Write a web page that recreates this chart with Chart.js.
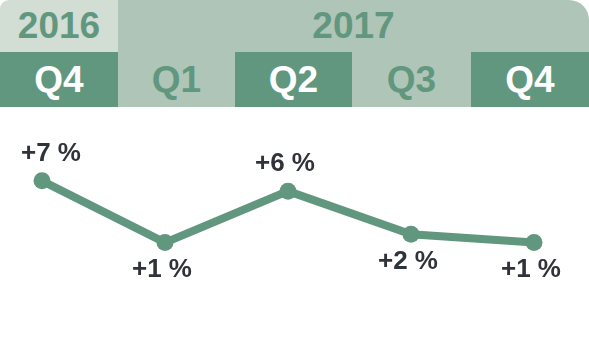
<!DOCTYPE html>
<html>
<head>
<meta charset="utf-8">
<script src="https://cdn.jsdelivr.net/npm/chart.js@4/dist/chart.umd.min.js"></script>
<style>
  html, body { margin: 0; padding: 0; background: #fff; }
  body { width: 589px; height: 354px; overflow: hidden; font-family: "Liberation Sans", Arial, sans-serif; }
  .row { display: flex; }
  .cell { display: flex; align-items: center; justify-content: center; font-weight: bold; }
  #years .cell { height: 52px; font-size: 37px; color: #62977f; }
  #quarters .cell { height: 55px; font-size: 37px; }
  #chartBox { position: relative; width: 589px; height: 247px; }
</style>
</head>
<body>
<div id="years" class="row"></div>
<div id="quarters" class="row"></div>
<div id="chartBox"><canvas id="growthChart"></canvas></div>
<script>
const years = ["2016", "2017"];
const yearSpans = [1, 4];
const quarters = ["Q4", "Q1", "Q2", "Q3", "Q4"];
const growth = [7, 1, 6, 1.8, 1];
const growthLabels = ["+7 %", "+1 %", "+6 %", "+2 %", "+1 %"];
const labelSide = ["top", "bottom", "top", "bottom", "bottom"];

const green = "#62977f";
const paleGreen = "#afc5b7";

// header rows
const cellWidths = [118, 117, 117, 119, 118];
let col = 0;
years.forEach((y, i) => {
    let w = 0;
    for (let k = 0; k < yearSpans[i]; k++) w += cellWidths[col + k];
    col += yearSpans[i];
    const d = document.createElement("div");
    d.className = "cell";
    d.style.width = w + "px";
    d.style.background = i === 0 ? "#d2ddd3" : paleGreen;
    d.style.borderRadius = i === 0 ? "9px 0 0 0" : "0 20px 0 0";
    d.textContent = y;
    document.getElementById("years").appendChild(d);
});
quarters.forEach((q, i) => {
    const d = document.createElement("div");
    d.className = "cell";
    d.style.width = cellWidths[i] + "px";
    d.style.background = i % 2 === 0 ? green : paleGreen;
    d.style.color = i % 2 === 0 ? "#ffffff" : green;
    d.textContent = q;
    document.getElementById("quarters").appendChild(d);
});

const valueLabels = {
    id: "valueLabels",
    afterDatasetsDraw(chart) {
        const ctx = chart.ctx;
        const meta = chart.getDatasetMeta(0);
        ctx.save();
        ctx.font = "bold 26px 'Liberation Sans', Arial, sans-serif";
        ctx.fillStyle = "#30343a";
        ctx.textAlign = "center";
        ctx.textBaseline = "middle";
        meta.data.forEach((pt, i) => {
            const dy = labelSide[i] === "top" ? -27 : 27;
            const dx = i === 0 ? 9 : -3;
            ctx.fillText(growthLabels[i], pt.x + dx, pt.y + dy);
        });
        ctx.restore();
    }
};

new Chart(document.getElementById("growthChart"), {
    type: "line",
    data: {
        labels: quarters,
        datasets: [{
            data: growth,
            borderColor: green,
            backgroundColor: green,
            borderWidth: 8,
            tension: 0,
            pointRadius: 8.5,
            pointBorderWidth: 0,
            pointBackgroundColor: green,
            clip: false
        }]
    },
    options: {
        responsive: true,
        maintainAspectRatio: false,
        animation: false,
        layout: { padding: { left: 42, right: 55, top: 0, bottom: 0 } },
        plugins: { legend: { display: false }, tooltip: { enabled: false } },
        scales: {
            x: { display: false, offset: false },
            y: { display: false, min: -9, max: 13.35 }
        }
    },
    plugins: [valueLabels]
});
</script>
</body>
</html>
